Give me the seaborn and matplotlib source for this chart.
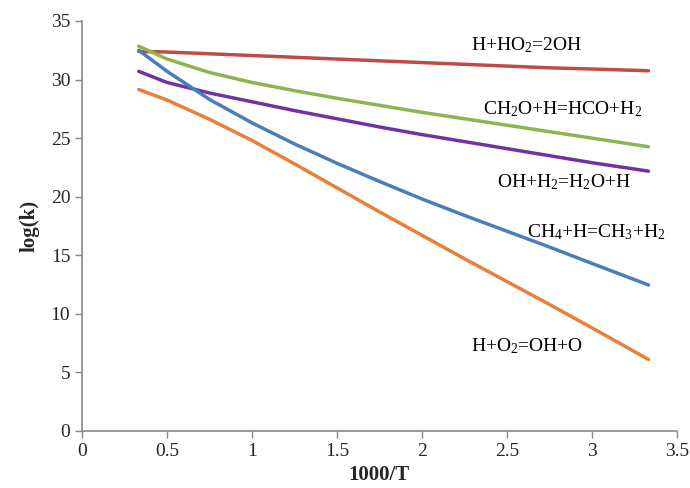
import matplotlib
matplotlib.use("Agg")
import matplotlib.pyplot as plt
import seaborn as sns
import pandas as pd

x = [0.333, 0.5, 0.75, 1.0, 1.25, 1.5, 1.75, 2.0, 2.25, 2.5, 2.75, 3.0, 3.333]
h_ho2 = [32.4, 32.35, 32.2, 32.05, 31.9, 31.75, 31.6, 31.45, 31.3, 31.15, 31.0, 30.9, 30.75]
ch2o_h = [32.85, 31.75, 30.6, 29.75, 29.05, 28.4, 27.8, 27.2, 26.65, 26.1, 25.55, 25.0, 24.26]
oh_h2 = [30.7, 29.75, 28.85, 28.1, 27.35, 26.65, 25.95, 25.3, 24.7, 24.1, 23.5, 22.9, 22.18]
ch4_h = [32.5, 30.7, 28.3, 26.3, 24.5, 22.85, 21.3, 19.8, 18.4, 17.05, 15.7, 14.3, 12.46]
h_o2 = [29.15, 28.25, 26.6, 24.8, 22.8, 20.75, 18.7, 16.7, 14.7, 12.75, 10.8, 8.8, 6.1]

series = {
    "H+HO2=2OH": h_ho2,
    "CH2O+H=HCO+H2": ch2o_h,
    "OH+H2=H2O+H": oh_h2,
    "CH4+H=CH3+H2": ch4_h,
    "H+O2=OH+O": h_o2,
}
colors = {
    "H+HO2=2OH": "#BE4B48",
    "CH2O+H=HCO+H2": "#8DB44E",
    "OH+H2=H2O+H": "#7232A0",
    "CH4+H=CH3+H2": "#4A7EBB",
    "H+O2=OH+O": "#E8803A",
}
labels = {
    "H+HO2=2OH": (2.29, 32.9, r"H+HO$_{2}$=2OH"),
    "CH2O+H=HCO+H2": (2.36, 27.5, r"CH$_{2}$O+H=HCO+H$_{2}$"),
    "OH+H2=H2O+H": (2.44, 21.2, r"OH+H$_{2}$=H$_{2}$O+H"),
    "CH4+H=CH3+H2": (2.62, 17.0, r"CH$_{4}$+H=CH$_{3}$+H$_{2}$"),
    "H+O2=OH+O": (2.29, 7.25, r"H+O$_{2}$=OH+O"),
}

rows = []
for name, vals in series.items():
    for xi, yi in zip(x, vals):
        rows.append({"x": xi, "y": yi, "reaction": name})
df = pd.DataFrame(rows)

sns.set_style("white")
plt.rcParams["font.family"] = ["Liberation Serif", "DejaVu Serif"]
plt.rcParams["mathtext.fontset"] = "custom"
plt.rcParams["mathtext.rm"] = "Liberation Serif"
plt.rcParams["mathtext.default"] = "regular"

fig = plt.figure(figsize=(6.9, 4.88), dpi=100)
ax = fig.add_axes([0.119, 0.117, 0.862, 0.840])
sns.lineplot(data=df, x="x", y="y", hue="reaction", palette=colors,
             linewidth=2.5, legend=False, ax=ax, sort=False)

for name, (lx, ly, txt) in labels.items():
    ax.text(lx, ly, txt, fontsize=14, va="center", ha="left", color="black")

ax.set_xlim(0, 3.5)
ax.set_ylim(0, 35)
ax.set_xticks([0, 0.5, 1, 1.5, 2, 2.5, 3, 3.5])
ax.set_xticklabels(["0", "0.5", "1", "1.5", "2", "2.5", "3", "3.5"])
ax.set_yticks(range(0, 36, 5))
ax.tick_params(axis="both", direction="out", length=5, width=1, color="#888888",
               labelsize=14, bottom=True, left=True)
for s in ["top", "right"]:
    ax.spines[s].set_visible(False)
for s in ["left", "bottom"]:
    ax.spines[s].set_color("#888888")
    ax.spines[s].set_linewidth(1.2)
ax.set_xlabel("1000/T", fontsize=15, fontweight="bold", labelpad=4)
ax.set_ylabel("log(k)", fontsize=15, fontweight="bold", labelpad=8)

fig.savefig("out.png", dpi=100)
